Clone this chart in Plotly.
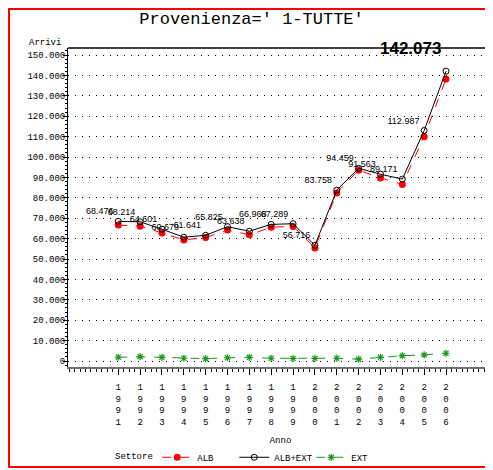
import plotly.graph_objects as go

# ---- data ----
years = [1991, 1992, 1993, 1994, 1995, 1996, 1997, 1998,
         1999, 2000, 2001, 2002, 2003, 2004, 2005, 2006]
year_labels = ["1<br>9<br>9<br>1", "1<br>9<br>9<br>2", "1<br>9<br>9<br>3", "1<br>9<br>9<br>4",
               "1<br>9<br>9<br>5", "1<br>9<br>9<br>6", "1<br>9<br>9<br>7", "1<br>9<br>9<br>8",
               "1<br>9<br>9<br>9", "2<br>0<br>0<br>0", "2<br>0<br>0<br>1", "2<br>0<br>0<br>2",
               "2<br>0<br>0<br>3", "2<br>0<br>0<br>4", "2<br>0<br>0<br>5", "2<br>0<br>0<br>6"]
alb = [66626, 66114, 62801, 59329, 60491, 64225, 61838, 65618,
       65989, 55416, 82408, 93559, 89763, 86571, 109987, 138273]
alb_ext = [68476, 68214, 64601, 60679, 61641, 65825, 63638, 66968,
           67289, 56716, 83758, 94459, 91563, 89171, 112987, 142073]
ext = [1850, 2100, 1800, 1350, 1150, 1600, 1800, 1350,
       1300, 1300, 1350, 900, 1800, 2600, 3000, 3800]
y_ticks = [0, 10000, 20000, 30000, 40000, 50000, 60000, 70000,
           80000, 90000, 100000, 110000, 120000, 130000, 140000, 150000]

MONO = "Liberation Mono, DejaVu Sans Mono, monospace"
SANS = "Liberation Sans, Arial, sans-serif"


def fmt(v):
    # italian style thousands separator
    return f"{v:,}".replace(",", ".")


# point labels; the last one is printed big and bold at the top, see annotation
point_labels = [fmt(v) for v in alb_ext[:-1]] + [""]

fig = go.Figure()

fig.add_trace(go.Scatter(
    name="ALB", x=years, y=alb, mode="lines+markers",
    line=dict(color="red", width=1, dash="dash"),
    marker=dict(symbol="circle", size=7, color="red"),
))

fig.add_trace(go.Scatter(
    name="ALB+EXT", x=years, y=alb_ext, mode="lines+markers+text",
    line=dict(color="black", width=1),
    marker=dict(symbol="circle-open", size=6, color="black", line=dict(width=1)),
    text=point_labels, textposition="top left",
    textfont=dict(family=SANS, size=9, color="black"),
))

fig.add_trace(go.Scatter(
    name="EXT", x=years, y=ext, mode="lines+markers",
    line=dict(color="#1a9a1a", width=1, dash="dash"),
    marker=dict(symbol="asterisk-open", size=6, color="#1a9a1a",
                line=dict(width=1.2, color="#1a9a1a")),
))

# the page body adds an 8px offset, so the margins are shifted by that amount
fig.update_layout(
    width=493, height=470,
    margin=dict(l=60, r=8, t=40, b=111, autoexpand=False),
    paper_bgcolor="white", plot_bgcolor="white",
    separators=",.",
    font=dict(family=MONO, size=9, color="black"),
    showlegend=True,
    title=dict(text="Provenienza=' 1-TUTTE'", x=0.494, xanchor="center",
               y=0.978, yanchor="middle",
               font=dict(family=MONO, size=17, color="black")),
    legend=dict(orientation="h", x=0.21, xanchor="left", y=-0.283, yanchor="middle",
                font=dict(family=MONO, size=9), itemwidth=30,
                entrywidth=32, entrywidthmode="pixels",
                bgcolor="rgba(0,0,0,0)"),
    shapes=[
        # red frame around the page (open on the right, like the original crop)
        dict(type="path", xref="paper", yref="paper",
             path="M 1.0,1.1223 L -0.1388,1.1223 L -0.1388,-0.3135 L 1.0,-0.3135",
             line=dict(color="red", width=2)),
        # black top line of the plot frame
        dict(type="line", xref="paper", yref="paper",
             x0=0, x1=1, y0=1, y1=1, line=dict(color="black", width=1.5)),
    ],
    annotations=[
        dict(text="Arrivi", xref="paper", yref="paper", x=-0.012, y=1.017,
             xanchor="right", yanchor="middle", showarrow=False,
             font=dict(family=MONO, size=9, color="black")),
        dict(text="Settore", xref="paper", yref="paper", x=0.106, y=-0.282,
             xanchor="left", yanchor="middle", showarrow=False,
             font=dict(family=MONO, size=9, color="black")),
        # last value of ALB+EXT, printed big
        dict(text=fmt(alb_ext[-1]), x=years[-1], y=alb_ext[-1],
             xanchor="right", yanchor="bottom", xshift=-3, yshift=11,
             showarrow=False,
             font=dict(family=SANS, size=17, weight="bold", color="black")),
    ],
)

fig.update_xaxes(
    range=[1988.70, 2008.15], automargin=False,
    tickvals=years, ticktext=year_labels,
    ticks="outside", ticklen=6, tickcolor="black", ticklabelstandoff=4,
    minor=dict(dtick=0.25, tick0=1991, ticks="outside", ticklen=3, tickcolor="black"),
    showline=True, linecolor="#707070", linewidth=2,
    showgrid=False, zeroline=False,
    tickfont=dict(family=MONO, size=9),
    title=dict(text="Anno", standoff=10, font=dict(family=MONO, size=9)),
)

fig.update_yaxes(
    range=[-2940, 153430], automargin=False,
    tickvals=y_ticks, tickformat=",d",
    ticks="outside", ticklen=4, tickcolor="black", ticklabelstandoff=-4,
    minor=dict(dtick=2000, ticks="outside", ticklen=2, tickcolor="black"),
    showline=True, linecolor="black", linewidth=1,
    showgrid=True, gridcolor="black", gridwidth=1, griddash="1px,6px",
    zeroline=False,
    tickfont=dict(family=MONO, size=9),
)

fig.write_html("out.html")
